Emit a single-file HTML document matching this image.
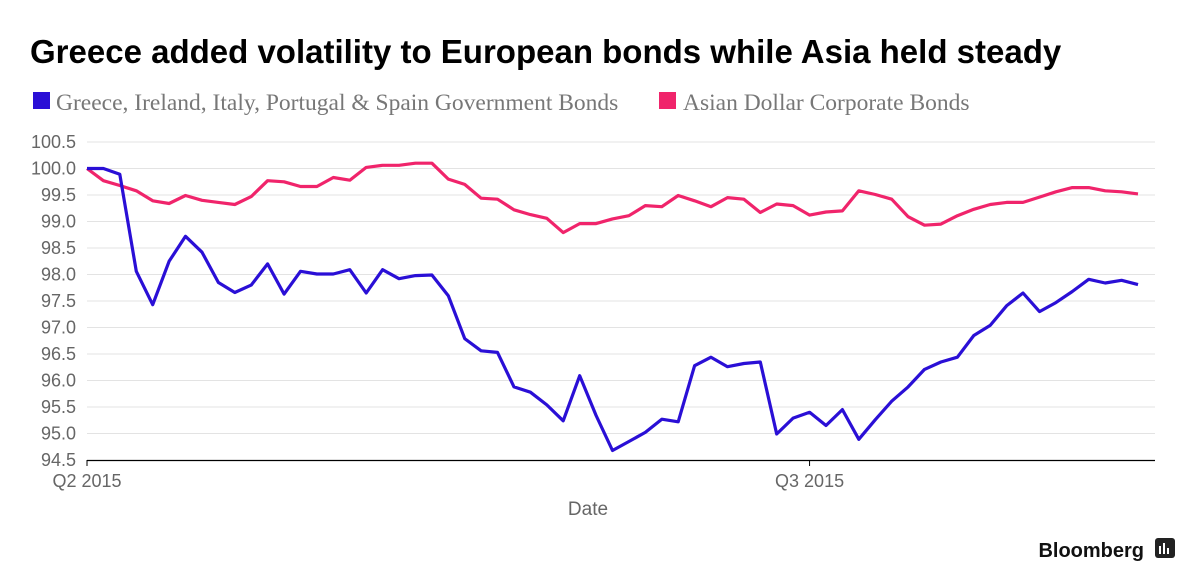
<!DOCTYPE html>
<html><head><meta charset="utf-8"><style>
body{margin:0;background:#fff;font-family:"Liberation Sans",sans-serif;}
#wrap{position:relative;width:1200px;height:586px;overflow:hidden;}
</style></head><body>
<div id="wrap">
<svg id="chart" width="1200" height="586">
<text x="30" y="63" font-size="33" font-weight="bold" fill="#000" font-family="Liberation Sans, sans-serif">Greece added volatility to European bonds while Asia held steady</text>
<g><rect x="33" y="92" width="17" height="17" fill="#2a0fd6"/><text x="56" y="110" font-size="23.5" fill="#777" font-family="Liberation Serif, serif">Greece, Ireland, Italy, Portugal &amp; Spain Government Bonds</text></g>
<g><rect x="659" y="92" width="17" height="17" fill="#f0246b"/><text x="683" y="110" font-size="23.5" fill="#777" font-family="Liberation Serif, serif">Asian Dollar Corporate Bonds</text></g>
<g id="grid"></g><g id="yt"></g><g id="xt"></g><g id="lines"></g>
<text x="588" y="515" font-size="19" fill="#666" text-anchor="middle">Date</text>
<text x="1144" y="557" font-size="20" font-weight="bold" fill="#111" text-anchor="end">Bloomberg</text>
<g><rect x="1155" y="538" width="20" height="20" rx="3" fill="#222"/><rect x="1159" y="546" width="2" height="8" fill="#fff"/><rect x="1163" y="543" width="2" height="11" fill="#fff"/><rect x="1167" y="548" width="2" height="6" fill="#fff"/></g>
</svg></div>
<script>
const yTicks=[94.5,95.0,95.5,96.0,96.5,97.0,97.5,98.0,98.5,99.0,99.5,100.0,100.5];
const xTickLabels=["Q2 2015","Q3 2015"];
const xTickIndex=[0,44];
const greece=[100.0,100.0,99.89,98.06,97.43,98.25,98.72,98.42,97.85,97.66,97.80,98.20,97.63,98.06,98.01,98.01,98.09,97.65,98.09,97.92,97.98,97.99,97.60,96.79,96.56,96.53,95.88,95.78,95.54,95.24,96.09,95.34,94.68,94.85,95.02,95.27,95.22,96.28,96.44,96.26,96.32,96.35,94.99,95.29,95.40,95.15,95.45,94.89,95.26,95.61,95.88,96.21,96.35,96.44,96.85,97.04,97.41,97.65,97.30,97.47,97.68,97.91,97.84,97.89,97.81];
const asia=[100.0,99.77,99.68,99.58,99.39,99.34,99.49,99.40,99.36,99.32,99.47,99.77,99.75,99.66,99.66,99.83,99.78,100.02,100.06,100.06,100.10,100.10,99.80,99.70,99.44,99.42,99.22,99.13,99.06,98.79,98.96,98.96,99.05,99.11,99.30,99.28,99.49,99.39,99.28,99.45,99.42,99.17,99.33,99.30,99.12,99.18,99.20,99.58,99.51,99.42,99.09,98.93,98.95,99.11,99.23,99.32,99.36,99.36,99.46,99.56,99.64,99.64,99.58,99.56,99.52];
const NS="http://www.w3.org/2000/svg";
const x0=87,x1=1138,nPts=asia.length;
const X=i=>x0+(x1-x0)*i/(nPts-1);
const Y=v=>460-(v-94.5)*53;
function mk(tag,attrs,parent,text){const e=document.createElementNS(NS,tag);for(const k in attrs)e.setAttribute(k,attrs[k]);if(text!==undefined)e.textContent=text;document.getElementById(parent).appendChild(e);return e;}
yTicks.forEach(v=>{
 if(v>94.5){const g=mk('line',{x1:87,x2:1155,y1:Y(v),y2:Y(v),stroke:'#e3e3e3','stroke-width':1},'grid');
 
 }
 const t=mk('text',{x:76,y:Y(v)+6,'font-size':18,fill:'#666','text-anchor':'end'},'yt',v.toFixed(1));
 
 
});
const ax=mk('line',{x1:87,x2:1155,y1:460.5,y2:460.5,stroke:'#000','stroke-width':1.2},'xt');


xTickLabels.forEach((l,k)=>{
 const xx=X(xTickIndex[k]);
 const tk=mk('line',{x1:xx,x2:xx,y1:460,y2:466,stroke:'#000'},'xt');
 
 
 const t=mk('text',{x:xx,y:487,'font-size':18,fill:'#666','text-anchor':'middle'},'xt',l);
 
 
});
function line(data,color,name){
 const d=data.map((v,i)=>(i?'L':'M')+X(i).toFixed(1)+','+Y(v).toFixed(1)).join(' ');
 const p=mk('path',{d:d,fill:'none',stroke:color,'stroke-width':3.2,'stroke-linejoin':'round'},'lines');
 
 
}
line(asia,'#f0246b','asia-series-line');
line(greece,'#2a0fd6','greece-series-line');
</script>
</body></html>
